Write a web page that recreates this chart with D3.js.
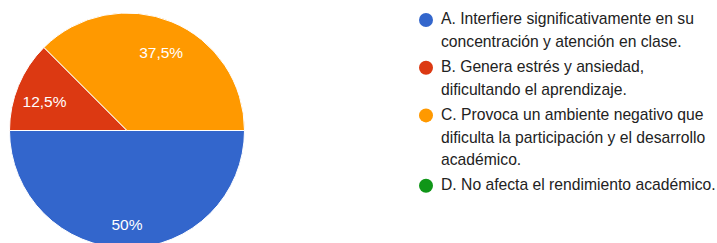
<!DOCTYPE html>
<html>
<head>
<meta charset="utf-8">
<script src="https://cdn.jsdelivr.net/npm/d3@7"></script>
<style>
  body { margin: 0; background: #fff; }
  svg { display: block; }
</style>
</head>
<body>
<svg id="svg1" width="717" height="243"></svg>
<script>
var categories = [
    "A. Interfiere significativamente en su concentración y atención en clase.",
    "B. Genera estrés y ansiedad, dificultando el aprendizaje.",
    "C. Provoca un ambiente negativo que dificulta la participación y el desarrollo académico.",
    "D. No afecta el rendimiento académico."
];
// legend text as it wraps in the picture
var legendLines = [
    ["A. Interfiere significativamente en su", "concentración y atención en clase."],
    ["B. Genera estrés y ansiedad,", "dificultando el aprendizaje."],
    ["C. Provoca un ambiente negativo que", "dificulta la participación y el desarrollo", "académico."],
    ["D. No afecta el rendimiento académico."]
];
var values = [50, 12.5, 37.5, 0];
var labels = ["50%", "12,5%", "37,5%", ""];
var colors = ["#3366cc", "#dc3912", "#ff9900", "#109618"];

var svg = d3.select('#svg1');

var cx = 127, cy = 130.5, radius = 117.5;
var font = 'Arial, "Liberation Sans", sans-serif';

var pie = d3.pie()
    .sort(null)
    .value(function(d){ return d; })
    .startAngle(Math.PI / 2)
    .endAngle(Math.PI / 2 + 2 * Math.PI);

var arc = d3.arc().innerRadius(0).outerRadius(radius);
var labelArc = d3.arc().innerRadius(radius * 0.76).outerRadius(radius * 0.76);

var g = svg.append('g')
    .attr('transform', 'translate(' + cx + ',' + cy + ')');

var slices = pie(values);

g.selectAll('.slice')
    .data(slices)
    .enter()
    .append('path')
    .attr('class', 'slice')
    .attr('d', arc)
    .attr('fill', function(d, i){ return colors[i]; })
    .attr('stroke', '#fff')
    .attr('stroke-width', function(d){ return d.value > 0 ? 1 : 0; });

g.selectAll('.pct')
    .data(slices)
    .enter()
    .append('text')
    .attr('class', 'pct')
    .attr('transform', function(d){ return 'translate(' + labelArc.centroid(d) + ')'; })
    .attr('text-anchor', 'middle')
    .attr('dy', '0.35em')
    .attr('y', 5)
    .attr('fill', '#fff')
    .style('font-family', font)
    .style('font-size', '15.5px')
    .text(function(d, i){ return labels[i]; });

// legend
var legendX = 426, lineH = 22.7, itemGap = 2.3;
var y = 19;
var legend = svg.append('g');

legendLines.forEach(function(lines, i){
    var item = legend.append('g');
    item.append('circle')
        .attr('cx', legendX)
        .attr('cy', y + 1)
        .attr('r', 7)
        .attr('fill', colors[i]);
    var t = item.append('text')
        .attr('fill', '#222')
        .style('font-family', font)
        .style('font-size', '15.7px');
    lines.forEach(function(line, j){
        t.append('tspan')
            .attr('x', legendX + 15)
            .attr('y', y + j * lineH)
            .attr('dy', '0.35em')
            .text(line);
    });
    y += lines.length * lineH + itemGap;
});
</script>
</body>
</html>
